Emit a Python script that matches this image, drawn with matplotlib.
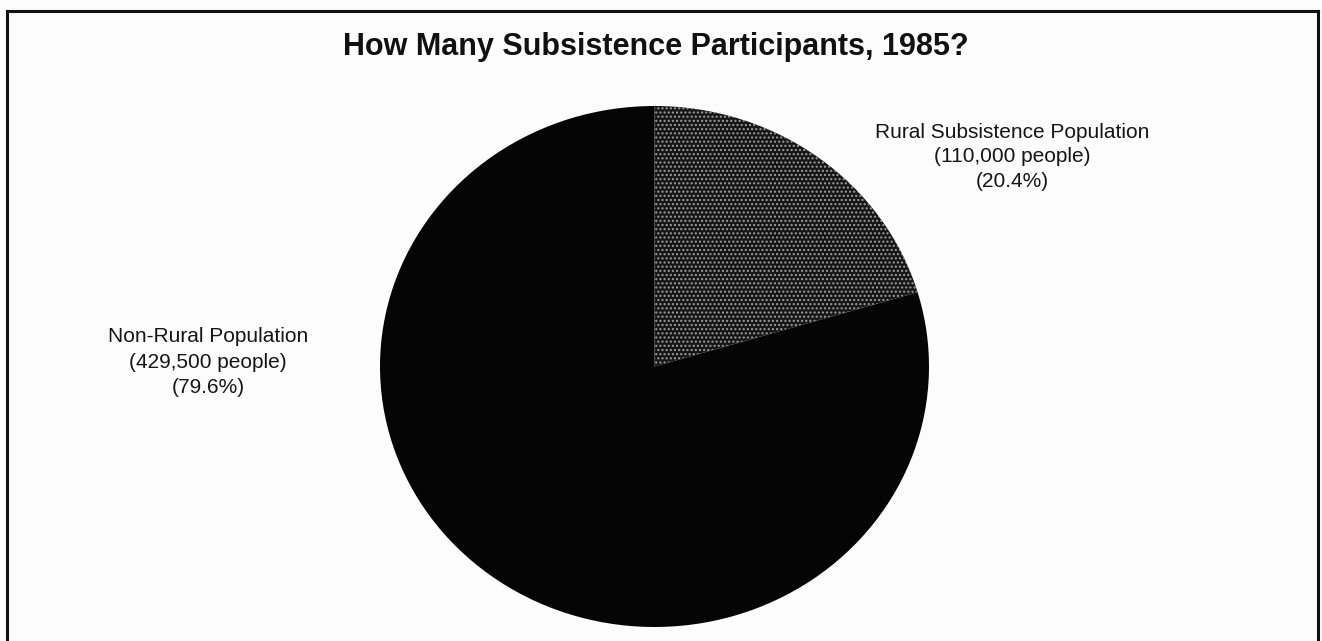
import matplotlib.pyplot as plt
from matplotlib.lines import Line2D

plt.rcParams['font.family'] = ['Liberation Sans', 'DejaVu Sans']
plt.rcParams['hatch.linewidth'] = 1.0

# data
title = 'How Many Subsistence Participants, 1985?'
groups = ['Rural Subsistence Population', 'Non-Rural Population']
people = [110000, 429500]
shares = [20.4, 79.6]

W, H = 1322, 641
fig = plt.figure(figsize=(W / 100, H / 100), dpi=100)
fig.patch.set_facecolor('#fcfcfc')

# pie box (pixels): x 380-929, y 106-627 (scan is slightly stretched)
ax = fig.add_axes([380 / W, 1 - 627 / H, 549 / W, 521 / H])
wedges, _ = ax.pie(shares, startangle=90, counterclock=False,
                   colors=['#161616', '#050505'],
                   wedgeprops=dict(linewidth=0))
# halftone dot screen on the rural slice
wedges[0].set_hatch('....')
wedges[0].set_edgecolor('#a0a0a0')
wedges[0].set_linewidth(0)
ax.set_aspect('auto')
ax.set_xlim(-1, 1)
ax.set_ylim(-1, 1)
ax.axis('off')

fig.text(656 / W, 1 - 55 / H, title, ha='center', va='baseline',
         fontsize=22, fontweight='bold', color='#111111')

fig.text(1012 / W, 1 - 157 / H,
         f'{groups[0]}\n({people[0]:,} people)\n({shares[0]}%)',
         ha='center', va='center', multialignment='center',
         fontsize=15, color='#151515', linespacing=1.38)
fig.text(208 / W, 1 - 362 / H,
         f'{groups[1]}\n({people[1]:,} people)\n({shares[1]}%)',
         ha='center', va='center', multialignment='center',
         fontsize=15, color='#151515', linespacing=1.42)

# frame around the figure (open at the bottom, as cropped in the scan)
x0, x1, y0 = 7 / W, 1318 / W, 1 - 11 / H
for xs, ys in [([x0, x0], [0, y0]), ([x0, x1], [y0, y0]), ([x1, x1], [y0, 0])]:
    fig.add_artist(Line2D(xs, ys, transform=fig.transFigure,
                          color='#111111', linewidth=2.2))

fig.savefig('out.png', dpi=100, facecolor=fig.get_facecolor())
